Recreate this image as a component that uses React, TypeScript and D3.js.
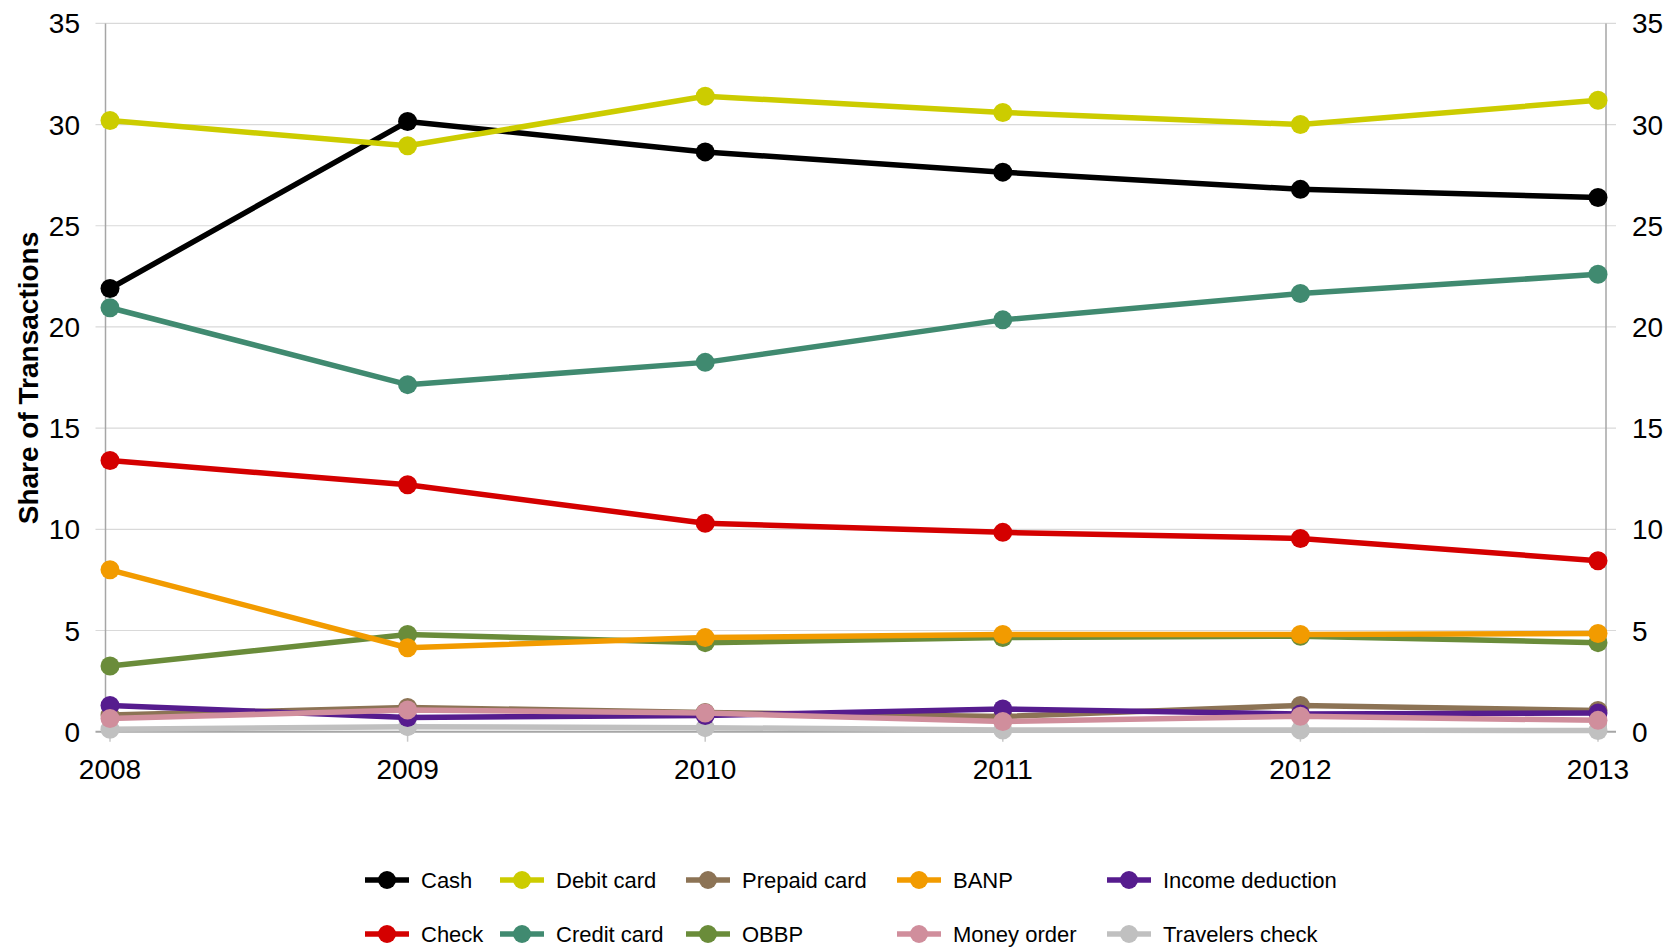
import React from "react";
import * as d3 from "d3";

const years = ["2008", "2009", "2010", "2011", "2012", "2013"];
const yTicks = [0, 5, 10, 15, 20, 25, 30, 35];

const cash = [21.9, 30.15, 28.65, 27.65, 26.8, 26.4];
const debitCard = [30.2, 28.95, 31.4, 30.6, 30.0, 31.2];
const creditCard = [20.95, 17.15, 18.25, 20.35, 21.65, 22.6];
const check = [13.4, 12.2, 10.3, 9.85, 9.55, 8.45];
const banp = [8.0, 4.15, 4.65, 4.8, 4.8, 4.85];
const obbp = [3.25, 4.8, 4.4, 4.65, 4.72, 4.4];
const prepaidCard = [0.82, 1.2, 0.95, 0.75, 1.3, 1.05];
const incomeDeduction = [1.3, 0.7, 0.8, 1.12, 0.88, 0.92];
const moneyOrder = [0.65, 1.07, 0.92, 0.5, 0.76, 0.56];
const travelersCheck = [0.12, 0.25, 0.2, 0.08, 0.08, 0.06];

const seriesNames = [
  "Travelers check", "Cash", "Check", "Debit card", "Credit card", "Prepaid card",
  "OBBP", "BANP", "Income deduction", "Money order",
];
const seriesValues = [
  travelersCheck, cash, check, debitCard, creditCard, prepaidCard,
  obbp, banp, incomeDeduction, moneyOrder,
];
const colors: Record<string, string> = {
  "Cash": "#000000",
  "Debit card": "#cccc00",
  "Prepaid card": "#8c7355",
  "BANP": "#f29b00",
  "Income deduction": "#561c8e",
  "Check": "#d40000",
  "Credit card": "#408a70",
  "OBBP": "#6a8c3a",
  "Money order": "#d08e9c",
  "Travelers check": "#c0c0c0",
};
const legendRows = [
  ["Cash", "Debit card", "Prepaid card", "BANP", "Income deduction"],
  ["Check", "Credit card", "OBBP", "Money order", "Travelers check"],
];
const legendCols = [387, 522, 708, 919, 1129];
const legendRowY = [880, 934];

export default function App() {
  const W = 1670, H = 947;
  const left = 105.5, right = 1606;
  const x = d3.scalePoint<string>().domain(years).range([110, 1598]);
  const y = d3.scaleLinear().domain([0, 35]).range([731.7, 23.4]);
  const line = d3.line<number>().x((_, i) => x(years[i])!).y((d) => y(d));
  const font = "Liberation Sans, Arial, sans-serif";

  return (
    <svg width={W} height={H} style={{ position: "absolute", left: 0, top: 0, background: "#fff" }} fontFamily={font}>
      {yTicks.map((t) => (
        <g key={t}>
          {t > 0 && <line x1={left - 10} x2={right + 10} y1={y(t)} y2={y(t)} stroke="#d9d9d9" strokeWidth={1.2} />}
          <text x={80} y={y(t)} dy="0.36em" textAnchor="end" fontSize={28} fill="#000">{t}</text>
          <text x={1632} y={y(t)} dy="0.36em" textAnchor="start" fontSize={28} fill="#000">{t}</text>
        </g>
      ))}
      <line x1={left} x2={left} y1={y(35)} y2={y(0)} stroke="#a6a6a6" strokeWidth={1.5} />
      <line x1={right} x2={right} y1={y(35)} y2={y(0)} stroke="#a6a6a6" strokeWidth={1.5} />
      <line x1={left - 10} x2={right + 10} y1={y(0)} y2={y(0)} stroke="#a6a6a6" strokeWidth={2} />
      {years.map((yr) => (
        <g key={yr}>
          <line x1={x(yr)} x2={x(yr)} y1={y(0)} y2={y(0) + 10} stroke="#c8c8c8" strokeWidth={1.5} />
          <text x={x(yr)} y={769} dy="0.36em" textAnchor="middle" fontSize={28} fill="#000">{yr}</text>
        </g>
      ))}
      <text transform={`translate(28,${378}) rotate(-90)`} textAnchor="middle" dy="0.36em" fontSize={28} fontWeight="bold" fill="#000">
        Share of Transactions
      </text>
      {seriesNames.map((name, si) => (
        <g key={name}>
          <path d={line(seriesValues[si])!} fill="none" stroke={colors[name]} strokeWidth={5.5} strokeLinejoin="round" />
          {seriesValues[si].map((v, i) => (
            <circle key={i} cx={x(years[i])} cy={y(v)} r={9.5} fill={colors[name]} />
          ))}
        </g>
      ))}
      {legendRows.map((row, ri) =>
        row.map((name, ci) => (
          <g key={name} transform={`translate(${legendCols[ci]},${legendRowY[ri]})`}>
            <line x1={-22} x2={22} y1={0} y2={0} stroke={colors[name]} strokeWidth={5.5} />
            <circle cx={0} cy={0} r={9} fill={colors[name]} />
            <text x={34} y={0} dy="0.36em" fontSize={22} fill="#000">{name}</text>
          </g>
        ))
      )}
    </svg>
  );
}
